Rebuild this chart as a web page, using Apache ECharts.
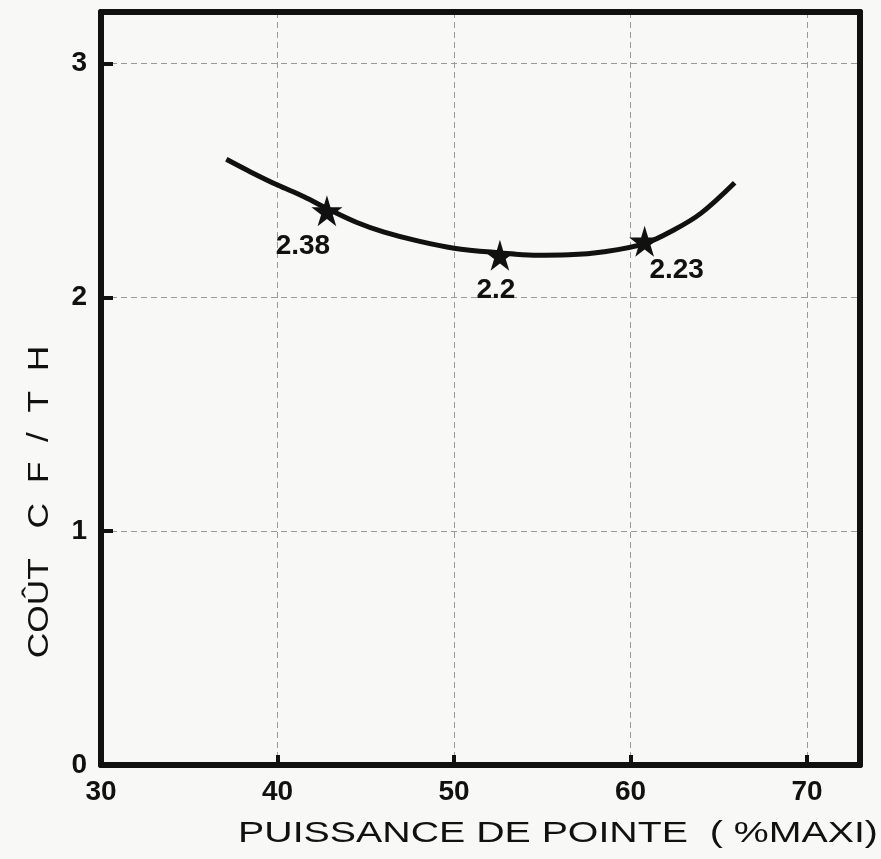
<!DOCTYPE html>
<html>
<head>
<meta charset="utf-8">
<script src="https://cdn.jsdelivr.net/npm/echarts@6/dist/echarts.min.js"></script>
<style>
html,body{margin:0;padding:0;background:#f8f8f6;}
#chart{width:881px;height:859px;}
</style>
</head>
<body>
<div id="chart"></div>
<script>
// ---- data ----
const xTicks = [30, 40, 50, 60, 70];
const yTicks = [0, 1, 2, 3];
const curveX = [37.1, 38.5, 40, 41.5, 42.8, 44.5, 46, 48, 50, 52.6, 54.5, 56.5, 58.5, 60.8, 62.5, 64, 65.9];
const curveY = [2.59, 2.535, 2.48, 2.43, 2.38, 2.32, 2.28, 2.24, 2.21, 2.19, 2.18, 2.182, 2.195, 2.23, 2.29, 2.36, 2.49];
const pointX = [42.8, 52.6, 60.8];
const pointY = [2.37, 2.18, 2.24];
const pointLabels = ['2.38', '2.2', '2.23'];
const xName = 'PUISSANCE DE POINTE  ( %MAXI)';
const yName = 'COÛT   C  F  /  T  H';

// ---- styling ----
const labelOffsets = [[-24, 0], [-4, 0], [32, -6]];
const font = '"Liberation Sans", Arial, Helvetica, sans-serif';
const ink = '#111';
const frameLine = { show: true, lineStyle: { color: ink, width: 6 } };
const gridLine = { show: true, lineStyle: { color: '#999', width: 1, type: [6, 4] } };

const chart = echarts.init(document.getElementById('chart'));
const curveData = curveX.map((x, i) => [x, curveY[i]]);
const starPath = 'path://M50,0 L61,35 L98,35 L68,57 L79,91 L50,70 L21,91 L32,57 L2,35 L39,35 Z';
const pointData = pointX.map((x, i) => ({
  value: [x, pointY[i]],
  label: {
    show: true,
    formatter: pointLabels[i],
    position: 'bottom',
    distance: 6,
    offset: labelOffsets[i]
  }
}));

chart.setOption({
  backgroundColor: '#f8f8f6',
  animation: false,
  grid: { left: 101, right: 21, top: 12, bottom: 94 },
  xAxis: [
    {
      type: 'value', min: 30, max: 73, interval: 10, position: 'bottom',
      axisLine: Object.assign({ onZero: false }, frameLine),
      axisTick: { show: true, inside: true, length: 10, lineStyle: { color: ink, width: 4 } },
      axisLabel: {
        color: ink, fontFamily: font, fontWeight: 'bold', fontSize: 28, margin: 13,
        showMaxLabel: false, formatter: v => xTicks.includes(v) ? String(v) : ''
      },
      splitLine: gridLine
    },
    {
      type: 'value', min: 30, max: 73, position: 'top',
      axisLine: Object.assign({ onZero: false }, frameLine),
      axisTick: { show: false }, axisLabel: { show: false }, splitLine: { show: false }
    }
  ],
  yAxis: [
    {
      type: 'value', min: 0, max: 3.22, interval: 1, position: 'left',
      axisLine: Object.assign({ onZero: false }, frameLine),
      axisTick: { show: true, inside: true, length: 12, lineStyle: { color: ink, width: 4 } },
      axisLabel: {
        color: ink, fontFamily: font, fontWeight: 'bold', fontSize: 28, margin: 14,
        showMaxLabel: false, formatter: v => yTicks.includes(v) ? String(v) : ''
      },
      splitLine: gridLine
    },
    {
      type: 'value', min: 0, max: 3.22, position: 'right',
      axisLine: Object.assign({ onZero: false }, frameLine),
      axisTick: { show: false }, axisLabel: { show: false }, splitLine: { show: false }
    }
  ],
  series: [
    {
      type: 'line', data: curveData, smooth: 0.35, showSymbol: false,
      lineStyle: { color: ink, width: 5 }, z: 2
    },
    {
      type: 'scatter', data: pointData, symbol: starPath, symbolSize: 31,
      itemStyle: { color: ink, opacity: 1 },
      label: { color: ink, fontFamily: font, fontSize: 28, fontWeight: 'bold' },
      z: 3
    }
  ],
  graphic: [
    {
      type: 'text', x: 558, y: 834, scaleX: 1.31,
      style: { text: xName, fill: ink, font: '500 30px ' + font, align: 'center', verticalAlign: 'middle' }
    },
    {
      type: 'text', x: 40, y: 502, rotation: Math.PI / 2, scaleX: 1.18,
      style: { text: yName, fill: ink, font: '500 30px ' + font, align: 'center', verticalAlign: 'middle' }
    }
  ]
});
</script>
</body>
</html>
